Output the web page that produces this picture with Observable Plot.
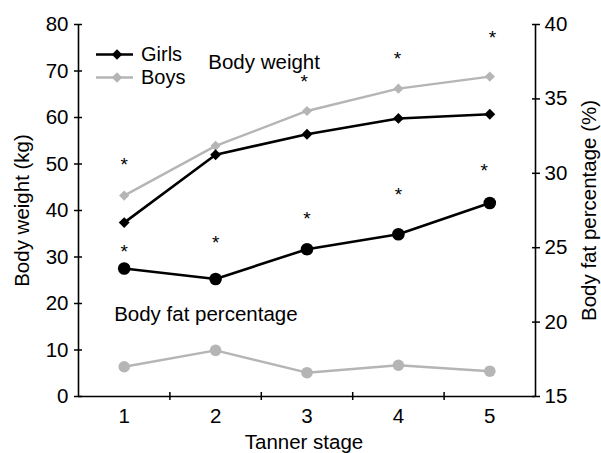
<!DOCTYPE html>
<html><head><meta charset="utf-8">
<script src="https://cdn.jsdelivr.net/npm/d3@7"></script>
<script src="https://cdn.jsdelivr.net/npm/@observablehq/plot@0.6"></script>
<style>
body{margin:0;background:#fff;}
#wrap{position:relative;width:601px;height:453px;}
#legend{position:absolute;left:0;top:0;pointer-events:none;}
</style></head><body><div id="wrap"></div>
<script>
// ---- data ----
const stages = [1, 2, 3, 4, 5];
const girlsWeight = [37.4, 52.0, 56.4, 59.8, 60.7];
const boysWeight  = [43.2, 53.9, 61.4, 66.2, 68.8];
const girlsFat = [23.6, 22.9, 24.9, 25.9, 28.0];
const boysFat  = [17.0, 18.1, 16.6, 17.1, 16.7];
// significance asterisks (x in Tanner stage, y in kg on the left axis)
const starX = [1, 1, 2, 2.97, 3, 3.99, 4, 5.03, 4.94];
const starY = [50.3, 31.5, 33.5, 68.0, 38.6, 73.1, 43.7, 77.6, 49.0];
const weightTicks = [0, 10, 20, 30, 40, 50, 60, 70, 80];
const fatTicks = [15, 20, 25, 30, 35, 40];
const stageTicks = [1, 2, 3, 4, 5];
const sepTicks = [1.5, 2.5, 3.5, 4.5];
const labels = {x: "Tanner stage", yLeft: "Body weight (kg)", yRight: "Body fat percentage (%)"};
const seriesNames = ["Girls", "Boys"];
const annotations = [
  {text: "Body weight", x: 1.92, y: 71.9},
  {text: "Body fat percentage", x: 0.89, y: 17.7}
];

// ---- helpers ----
const fatMin = 15, fatMax = 40, wMax = 80;
const toW = f => (f - fatMin) * wMax / (fatMax - fatMin);
const girlsC = "#000000", boysC = "#b5b5b5";
const rows = stages.map((s, i) => ({
  stage: s, gw: girlsWeight[i], bw: boysWeight[i],
  gf: toW(girlsFat[i]), bf: toW(boysFat[i])
}));
const stars = starX.map((x, i) => ({x, y: starY[i]}));
const font = "Liberation Sans";
const fs = 20.5;

const plot = Plot.plot({
  width: 601, height: 453,
  marginLeft: 78, marginRight: 66, marginTop: 24, marginBottom: 57,
  style: {fontFamily: font, fontSize: fs + "px", color: "#000", background: "#fff"},
  x: {domain: [0.5, 5.5]},
  y: {domain: [0, wMax]},
  marks: [
    Plot.ruleX([0.5, 5.5], {stroke: "#000", strokeWidth: 1.6}),
    Plot.ruleY([0], {stroke: "#000", strokeWidth: 1.6}),
    Plot.axisY({anchor: "left", ticks: weightTicks, tickFormat: d => String(d), tickSize: 8, dx: 4, tickPadding: 6, label: null, strokeWidth: 1.5, fontSize: fs}),
    Plot.axisY({anchor: "right", ticks: fatTicks.map(toW), tickFormat: d => String(Math.round(fatMin + d * (fatMax - fatMin) / wMax)), tickSize: 8, dx: -4, tickPadding: 5, label: null, strokeWidth: 1.5, fontSize: fs}),
    Plot.axisX({ticks: stageTicks, tickFormat: d => String(d), tickSize: 0, tickPadding: 12, label: null, fontSize: fs}),
    Plot.axisX({ticks: sepTicks, tickSize: 8, dy: -4, tickFormat: () => "", label: null, strokeWidth: 1.5}),
    // body fat
    Plot.line(rows, {x: "stage", y: "bf", stroke: boysC, strokeWidth: 2.4}),
    Plot.dot(rows, {x: "stage", y: "bf", r: 5.8, fill: boysC}),
    Plot.line(rows, {x: "stage", y: "gf", stroke: girlsC, strokeWidth: 2.6}),
    Plot.dot(rows, {x: "stage", y: "gf", r: 6.3, fill: girlsC}),
    // body weight
    Plot.line(rows, {x: "stage", y: "bw", stroke: boysC, strokeWidth: 2.4}),
    Plot.dot(rows, {x: "stage", y: "bw", symbol: "diamond2", r: 4.6, fill: boysC}),
    Plot.line(rows, {x: "stage", y: "gw", stroke: girlsC, strokeWidth: 2.6}),
    Plot.dot(rows, {x: "stage", y: "gw", symbol: "diamond2", r: 4.9, fill: girlsC}),
    // asterisks
    Plot.text(stars, {x: "x", y: "y", text: () => "*", fontSize: 19, lineAnchor: "middle", dy: 2, fill: "#000"}),
    // annotations
    Plot.text(annotations, {x: "x", y: "y", text: "text", textAnchor: "start", lineAnchor: "middle", fontSize: fs, fill: "#000"}),
    // axis titles
    Plot.text([labels.yLeft], {text: d => d, frameAnchor: "left", textAnchor: "middle", rotate: -90, dx: -56, lineAnchor: "middle", fontSize: fs, fill: "#000"}),
    Plot.text([labels.yRight], {text: d => d, frameAnchor: "right", textAnchor: "middle", rotate: -90, dx: 54, lineAnchor: "middle", fontSize: fs, fill: "#000"}),
    Plot.text([labels.x], {text: d => d, frameAnchor: "bottom", textAnchor: "middle", dy: 46, dx: -3, lineAnchor: "middle", fontSize: fs, fill: "#000"})
  ]
});
document.getElementById("wrap").appendChild(plot);

// ---- legend (overlay) ----
const lg = d3.select("#wrap").append("svg").attr("id", "legend").attr("width", 601).attr("height", 453);
const legendItems = [
  {name: seriesNames[0], color: girlsC, y: 54.5, base: 61},
  {name: seriesNames[1], color: boysC, y: 77.5, base: 84}
];
legendItems.forEach(it => {
  lg.append("line").attr("x1", 96).attr("x2", 133).attr("y1", it.y).attr("y2", it.y)
    .attr("stroke", it.color).attr("stroke-width", 2.6);
  lg.append("path").attr("d", d3.symbol(d3.symbolDiamond2, 70)())
    .attr("transform", `translate(117,${it.y})`).attr("fill", it.color);
  lg.append("text").attr("x", 141).attr("y", it.base).text(it.name)
    .attr("font-family", "Liberation Sans").attr("font-size", 20).attr("fill", "#000");
});
</script></body></html>
